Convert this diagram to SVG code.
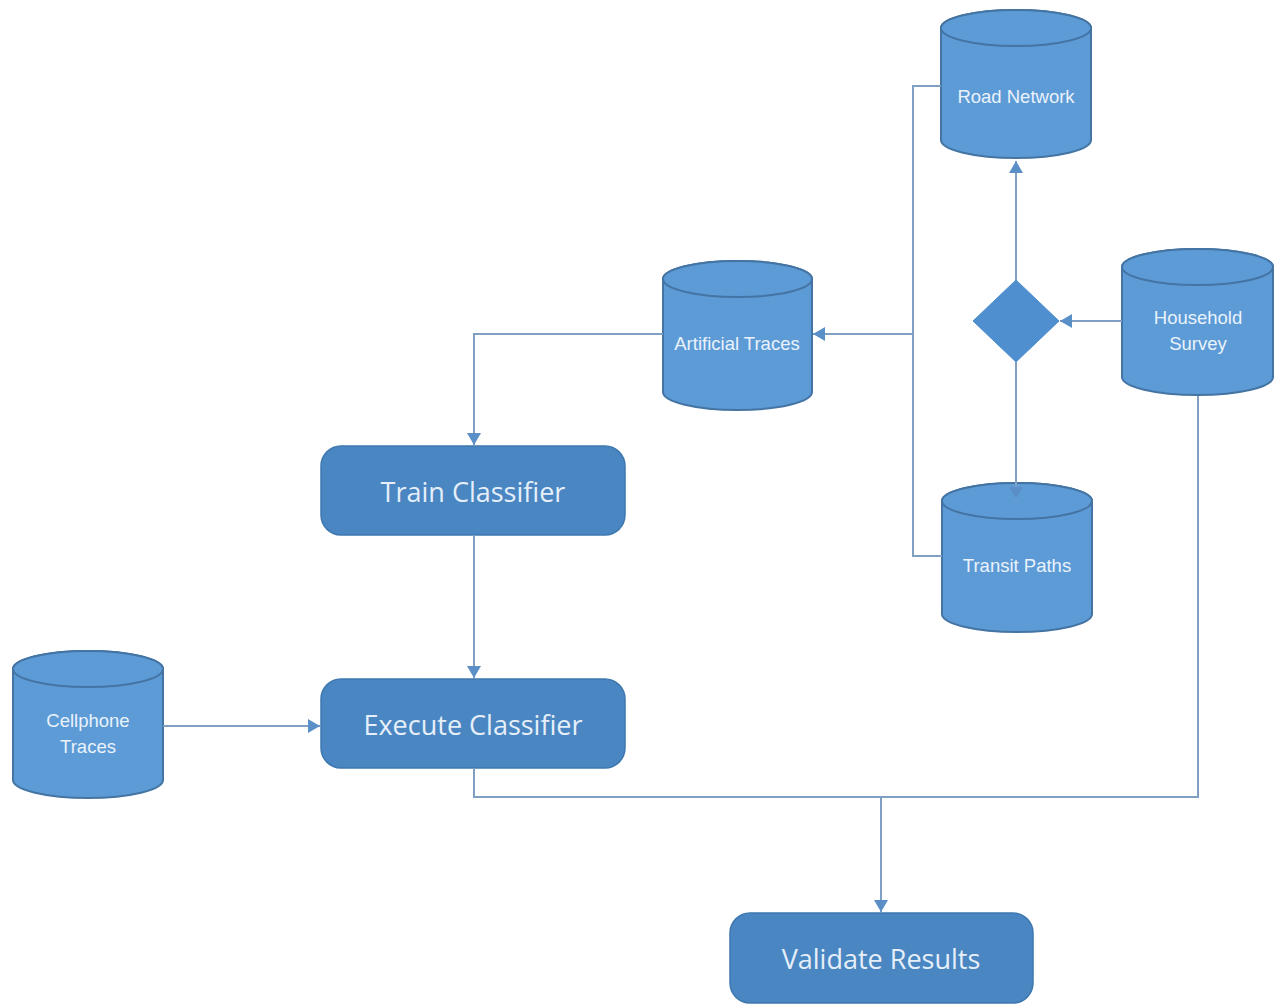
<svg xmlns="http://www.w3.org/2000/svg" width="1276" height="1005" viewBox="0 0 1276 1005">
<defs>
<style>
.cyl{fill:#5d9bd6;stroke:#4474a3;stroke-width:2}
.cylTop{fill:#5d9bd6;stroke:#4474a3;stroke-width:2}
.proc{fill:#4a86c1;stroke:#3f78b0;stroke-width:1.5}
.dia{fill:#4f8fd0;stroke:#4f8fd0;stroke-width:1}
.conn{fill:none;stroke:#7f9fc3;stroke-width:2}
.small{font-family:"Liberation Sans",Arial,sans-serif;font-size:18.5px;fill:#eaf2fb;text-anchor:middle}
.big{font-family:"Open Sans","Liberation Sans",sans-serif;font-size:27px;fill:#e6eff9;text-anchor:middle}
</style>
<marker id="arr" markerWidth="14" markerHeight="14" refX="12" refY="7" orient="auto" markerUnits="userSpaceOnUse">
<path d="M0,0 L12,7 L0,14 Z" fill="#5b8fc8"/>
</marker>
</defs>
<rect width="1276" height="1005" fill="#ffffff"/>

<g id="road-network">
<path class="cyl" d="M941,28 A75,18 0 0 1 1091,28 V140 A75,18 0 0 1 941,140 Z"/>
<ellipse class="cylTop" cx="1016" cy="28" rx="75" ry="18"/>
<text class="small" x="1016" y="103">Road Network</text>
</g>

<g id="household-survey">
<path class="cyl" d="M1122,267 A75.5,18 0 0 1 1273,267 V377 A75.5,18 0 0 1 1122,377 Z"/>
<ellipse class="cylTop" cx="1197.5" cy="267" rx="75.5" ry="18"/>
<text class="small" x="1198" y="324">Household</text>
<text class="small" x="1198" y="350">Survey</text>
</g>

<g id="decision">
<polygon class="dia" points="1016,280 1059,321 1016,362 973,321"/>
</g>

<g id="artificial-traces">
<path class="cyl" d="M663,279 A74.5,18 0 0 1 812,279 V392 A74.5,18 0 0 1 663,392 Z"/>
<ellipse class="cylTop" cx="737.5" cy="279" rx="74.5" ry="18"/>
<text class="small" x="737" y="350">Artificial Traces</text>
</g>

<g id="transit-paths">
<path class="cyl" d="M942,501 A75,18 0 0 1 1092,501 V614 A75,18 0 0 1 942,614 Z"/>
<ellipse class="cylTop" cx="1017" cy="501" rx="75" ry="18"/>
<text class="small" x="1017" y="572">Transit Paths</text>
</g>

<g id="cellphone-traces">
<path class="cyl" d="M13,669 A75,18 0 0 1 163,669 V780 A75,18 0 0 1 13,780 Z"/>
<ellipse class="cylTop" cx="88" cy="669" rx="75" ry="18"/>
<text class="small" x="88" y="727">Cellphone</text>
<text class="small" x="88" y="753">Traces</text>
</g>

<g id="train-classifier">
<rect class="proc" x="321" y="446" width="304" height="89" rx="20" ry="20"/>
<text class="big" x="473" y="502">Train Classifier</text>
</g>

<g id="execute-classifier">
<rect class="proc" x="321" y="679" width="304" height="89" rx="20" ry="20"/>
<text class="big" x="473" y="735">Execute Classifier</text>
</g>

<g id="validate-results">
<rect class="proc" x="730" y="913" width="303" height="90" rx="20" ry="20"/>
<text class="big" x="881" y="969">Validate Results</text>
</g>

<g id="connectors">
<path class="conn" d="M1016,280 V161" marker-end="url(#arr)"/>
<path class="conn" d="M1122,321 H1060" marker-end="url(#arr)"/>
<path class="conn" d="M1016,362 V499" marker-end="url(#arr)"/>
<path class="conn" d="M941,86 H913 V556 H942"/>
<path class="conn" d="M913,334 H813" marker-end="url(#arr)"/>
<path class="conn" d="M663,334 H474 V445" marker-end="url(#arr)"/>
<path class="conn" d="M474,535 V678" marker-end="url(#arr)"/>
<path class="conn" d="M163,726 H320" marker-end="url(#arr)"/>
<path class="conn" d="M474,768 V797 H1198 V396"/>
<path class="conn" d="M881,797 V912" marker-end="url(#arr)"/>
</g>
</svg>
